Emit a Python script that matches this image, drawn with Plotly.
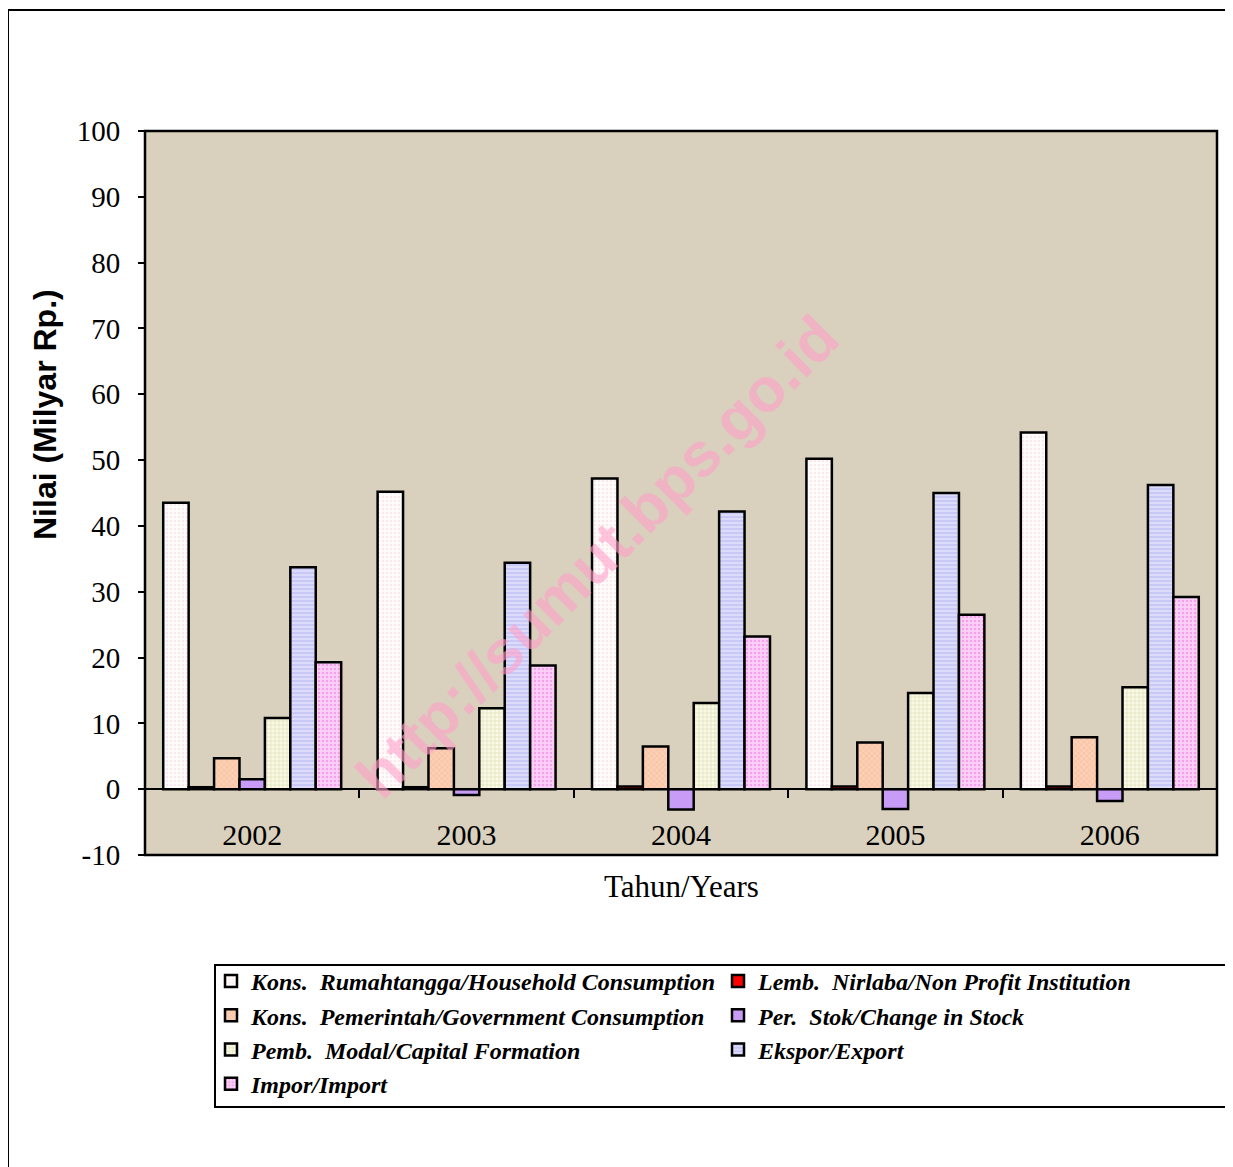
import plotly.graph_objects as go

years = ["2002", "2003", "2004", "2005", "2006"]
household = [43.5, 45.2, 47.2, 50.2, 54.2]
nonprofit = [0.3, 0.3, 0.4, 0.4, 0.4]
government = [4.7, 6.2, 6.5, 7.1, 7.9]
stock = [1.5, -0.9, -3.1, -3.0, -1.8]
capital = [10.8, 12.3, 13.1, 14.6, 15.5]
export = [33.7, 34.4, 42.2, 45.0, 46.2]
imports = [19.3, 18.8, 23.2, 26.5, 29.2]

y_tickvals = [-10, 0, 10, 20, 30, 40, 50, 60, 70, 80, 90, 100]
y_ticktext = ["-10", "0", "10", "20", "30", "40", "50", "60", "70", "80", "90", "100"]

names = [
    "Kons.  Rumahtangga/Household Consumption",
    "Lemb.  Nirlaba/Non Profit Institution",
    "Kons.  Pemerintah/Government Consumption",
    "Per.  Stok/Change in Stock",
    "Pemb.  Modal/Capital Formation",
    "Ekspor/Export",
    "Impor/Import",
]
series = [household, nonprofit, government, stock, capital, export, imports]
legend_col = ["legend", "legend2", "legend", "legend2", "legend", "legend2", "legend"]
bg_colors = ["#fffcfc", "#ff0000", "#fcd0b4", "#c89cf6", "#fafae6", "#dcdcfa", "#fad0f6"]
fg_colors = ["#f4d4dc", None, "#f0a888", None, "#c0c088", "#9a9af0", "#f070e0"]
shapes_p = [".", "", "x", "", "+", "-", "."]

fig = go.Figure()
for name, vals, lg, bgc, fgc, shp in zip(names, series, legend_col, bg_colors, fg_colors, shapes_p):
    marker = dict(color=bgc, line=dict(color="black", width=2.5))
    if shp:
        marker["pattern"] = dict(shape=shp, fgcolor=fgc, fillmode="overlay", size=4, solidity=0.3)
    fig.add_trace(go.Bar(x=years, y=vals, name=name, marker=marker, legend=lg))

legend_font = dict(family="Liberation Serif", size=24, color="black", weight="bold", style="italic")
legend_top = (855 - 959) / 724

fig.update_layout(
    width=1233, height=1167,
    margin=dict(l=137, r=24, t=123, b=320, autoexpand=False),
    paper_bgcolor="white",
    plot_bgcolor="#d9d0bd",
    barmode="group",
    bargap=0.17,
    bargroupgap=0,
    showlegend=True,
    legend=dict(
        orientation="v",
        x=(211 - 145) / 1072, xanchor="left",
        y=legend_top, yanchor="top",
        bgcolor="rgba(0,0,0,0)", borderwidth=0,
        font=legend_font, traceorder="normal", tracegroupgap=0,
    ),
    legend2=dict(
        orientation="v",
        x=(718 - 145) / 1072, xanchor="left",
        y=legend_top, yanchor="top",
        bgcolor="rgba(0,0,0,0)", borderwidth=0,
        font=legend_font, traceorder="normal", tracegroupgap=0,
    ),
    xaxis=dict(
        type="category",
        anchor="free", position=10 / 110,
        showline=True, linecolor="black", linewidth=2,
        ticks="outside", ticklen=8, tickcolor="black", tickwidth=2,
        tickson="boundaries",
        ticklabelstandoff=19,
        showgrid=False,
        tickfont=dict(family="Liberation Serif", size=30, color="black"),
    ),
    yaxis=dict(
        range=[-10, 100],
        tickmode="array", tickvals=y_tickvals, ticktext=y_ticktext,
        showgrid=False, zeroline=False,
        ticks="outside", ticklen=6, tickcolor="black", tickwidth=2,
        ticklabelstandoff=12,
        showline=False,
        tickfont=dict(family="Liberation Serif", size=29, color="black"),
    ),
    shapes=[
        dict(type="rect", xref="paper", yref="paper", x0=0, x1=1, y0=0, y1=1,
             line=dict(color="black", width=2.5), layer="above"),
        dict(type="rect", xref="paper", yref="paper", x0=-0.1278, x1=1.06, y0=-0.5, y1=1.167,
             line=dict(color="black", width=2)),
        dict(type="rect", xref="paper", yref="paper",
             x0=(215 - 145) / 1072, x1=(1231 - 145) / 1072,
             y0=(855 - 1107) / 724, y1=(855 - 965) / 724,
             line=dict(color="black", width=2)),
    ],
    annotations=[
        dict(text="Nilai (Milyar Rp.)", xref="paper", yref="paper",
             x=(45 - 145) / 1072, y=(855 - 415) / 724,
             showarrow=False, textangle=-90, xanchor="center", yanchor="middle",
             font=dict(family="Liberation Sans", size=32, color="black", weight="bold")),
        dict(text="Tahun/Years", xref="paper", yref="paper", x=0.5, y=(855 - 886) / 724,
             showarrow=False, yanchor="middle",
             font=dict(family="Liberation Serif", size=31, color="black")),
        dict(text="http://sumut.bps.go.id", xref="paper", yref="paper", x=0.422, y=0.412,
             showarrow=False, textangle=-45,
             font=dict(family="Liberation Sans", size=62, color="rgba(255,160,200,0.6)", weight="bold")),
    ],
)

fig.write_html("out.html")
